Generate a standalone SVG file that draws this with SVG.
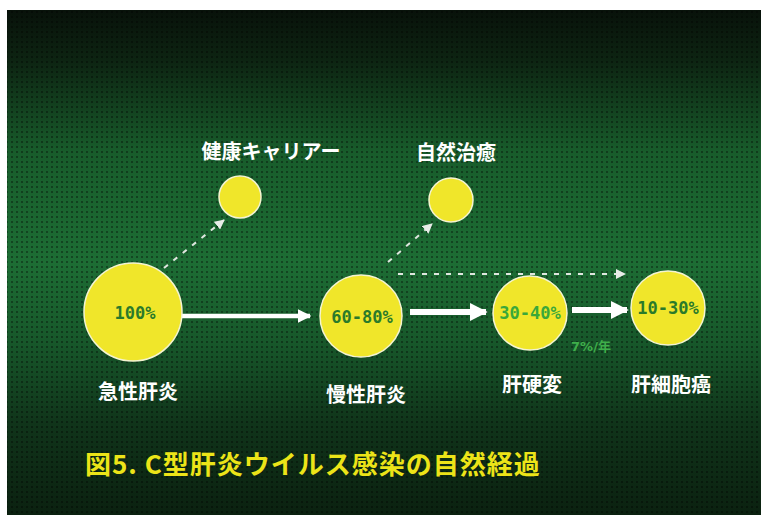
<svg xmlns="http://www.w3.org/2000/svg" width="761" height="515" viewBox="0 0 761 515">
<defs>
<linearGradient id="bg" x1="0" y1="10" x2="0" y2="515" gradientUnits="userSpaceOnUse">
<stop offset="0" stop-color="#08120a"/>
<stop offset="0.1" stop-color="#0d2412"/>
<stop offset="0.28" stop-color="#185c2b"/>
<stop offset="0.5" stop-color="#1d6d34"/>
<stop offset="0.66" stop-color="#17572a"/>
<stop offset="0.82" stop-color="#10341a"/>
<stop offset="1" stop-color="#0b2110"/>
</linearGradient>
<pattern id="dots" width="5" height="5" patternUnits="userSpaceOnUse">
<rect x="1" y="1" width="2" height="2" fill="#000" opacity="0.35"/>
</pattern>
<marker id="ah" viewBox="0 0 10 10" refX="9" refY="5" markerWidth="3" markerHeight="3" orient="auto" markerUnits="strokeWidth">
<path d="M0,0 L10,5 L0,10 Z" fill="#ffffff"/>
</marker>
<marker id="ahd" viewBox="0 0 10 10" refX="9" refY="5" markerWidth="5" markerHeight="5" orient="auto" markerUnits="strokeWidth">
<path d="M0,0 L10,5 L0,10 Z" fill="#e8ece8"/>
</marker>
<style>
.c{fill:#f0e62a;stroke:#f4f4d0;stroke-width:1.5}
.lbl{font-family:"Noto Sans CJK JP","Noto Sans",sans-serif;font-weight:bold;fill:#ffffff;font-size:20px;text-anchor:middle;dominant-baseline:central}
.pct{font-family:"DejaVu Sans Mono","Liberation Mono",monospace;font-weight:bold;fill:#2a7a2a;font-size:17px;text-anchor:middle;dominant-baseline:central}
.solid{stroke:#ffffff;stroke-width:5;fill:none}
.dash{stroke:#dfe6df;stroke-width:2;stroke-dasharray:5 7;fill:none}
.title{font-family:"Noto Sans CJK JP","Noto Sans",sans-serif;font-weight:bold;fill:#ece418;font-size:26px;letter-spacing:1px;dominant-baseline:central}
</style>
</defs>
<rect x="0" y="0" width="761" height="515" fill="#ffffff"/>
<rect x="7" y="10" width="754" height="505" fill="url(#bg)"/>
<rect x="7" y="10" width="754" height="505" fill="url(#dots)"/>

<g id="connectors">
<line class="solid" x1="182" y1="316" x2="310" y2="316" marker-end="url(#ah)" style="stroke-width:4.5"/>
<line class="solid" x1="410" y1="312" x2="486" y2="312" marker-end="url(#ah)" style="stroke-width:6"/>
<line class="solid" x1="572" y1="310" x2="627" y2="310" marker-end="url(#ah)" style="stroke-width:6"/>
<line class="dash" x1="164" y1="268" x2="224" y2="220" marker-end="url(#ahd)"/>
<line class="dash" x1="388" y1="262" x2="432" y2="224" marker-end="url(#ahd)"/>
<line class="dash" x1="398" y1="274" x2="625" y2="274" marker-end="url(#ahd)"/>
</g>

<g id="n-acute">
<circle class="c" cx="133" cy="312" r="49"/>
<text class="pct" x="135" y="313">100%</text>
<text class="lbl" x="138" y="390">急性肝炎</text>
</g>
<g id="n-chronic">
<circle class="c" cx="361" cy="316" r="41"/>
<text class="pct" x="362" y="317">60-80%</text>
<text class="lbl" x="366" y="393">慢性肝炎</text>
</g>
<g id="n-cirrhosis">
<circle class="c" cx="530" cy="313" r="37"/>
<text class="pct" x="530" y="313" style="fill:#3aa83a">30-40%</text>
<text class="lbl" x="532" y="383">肝硬変</text>
</g>
<g id="n-hcc">
<circle class="c" cx="668" cy="308" r="37"/>
<text class="pct" x="668" y="308">10-30%</text>
<text class="lbl" x="671" y="383">肝細胞癌</text>
</g>
<g id="n-carrier">
<circle class="c" cx="240" cy="197" r="21"/>
<text class="lbl" x="271" y="150">健康キャリアー</text>
</g>
<g id="n-cure">
<circle class="c" cx="451" cy="200" r="22"/>
<text class="lbl" x="456" y="151">自然治癒</text>
</g>
<text x="591" y="346" style="font-family:'DejaVu Sans','Noto Sans CJK JP',sans-serif;font-size:13px;font-weight:bold;fill:#3fae4a;text-anchor:middle;dominant-baseline:central">7%/年</text>
<text class="title" x="85" y="462">図5. C型肝炎ウイルス感染の自然経過</text>
</svg>
